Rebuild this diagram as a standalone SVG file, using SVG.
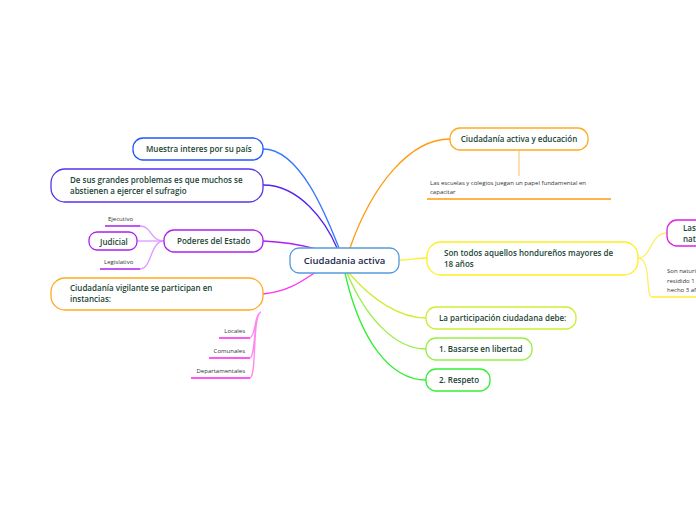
<svg xmlns="http://www.w3.org/2000/svg" width="696" height="520" viewBox="0 0 696 520">
<style>
.n{fill:#fff;stroke-width:1.3}
.t{font-family:"Open Sans","Noto Sans",sans-serif;font-size:8px;fill:#1b4536;font-weight:600}
.s{font-family:"Open Sans","Noto Sans",sans-serif;font-size:6px;fill:#333}
.c{fill:none;stroke-width:1.3}
</style>
<rect width="696" height="520" fill="#fff"/>
<g id="connectors">
<path class="c" stroke="#3377ff" d="M263,149 C300,149 326,215 339,248"/>
<path class="c" stroke="#5522ee" d="M263,185 C300,185 326,222 337,248"/>
<path class="c" stroke="#ff9a11" d="M450,139 C410,139 372,185 350,248"/>
<path class="c" stroke="#aa22ee" d="M263,241 C290,242 305,246 316,249"/>
<path class="c" stroke="#ff33ee" d="M263,294 C290,291 302,281 316,272"/>
<path class="c" stroke="#ffee33" d="M399,260 C410,260 415,258 427,258"/>
<path class="c" stroke="#ccee33" d="M349,273 C372,300 400,318 426,318"/>
<path class="c" stroke="#99ee44" d="M347,273 C366,318 395,349 426,349"/>
<path class="c" stroke="#33ee33" d="M345,273 C360,340 390,380 426,380"/>
<path class="c" stroke="#dd99ff" d="M164,241 L137,241"/>
<path class="c" stroke="#dd99ff" d="M164,241 C150,241 152,226 140,226"/>
<path class="c" stroke="#dd99ff" d="M164,241 C150,241 152,269 140,269"/>
<path class="c" stroke="#aa22ee" d="M105,226 L140,226 M100,269 L140,269"/>
<path class="c" stroke="#ff88ee" d="M261,312 C254,314 256,336 250,338 M261,312 C253,315 256,356 250,358 M261,312 C252,316 257,376 250,378"/>
<path class="c" stroke="#ff22ee" d="M219,338 L250,338 M209,358 L250,358 M191,378 L250,378"/>
<path class="c" stroke="#ffcc88" d="M519,151 L519,176"/>
<path class="c" stroke="#ff9a11" d="M427,199 L611,199"/>
<path class="c" stroke="#ffee66" d="M638,258 C652,258 650,233 667,233"/>
<path class="c" stroke="#ffee66" d="M638,258 C652,258 645,297 652,297"/>
<path class="c" stroke="#ffee33" d="M652,297 L696,297"/>
</g>
<g id="center"><rect class="n" x="290" y="248" width="109" height="25" rx="9" stroke="#5599dd"/><text x="344.5" y="264" text-anchor="middle" font-family="Open Sans,sans-serif" font-size="9.5" font-weight="600" fill="#1a2a4a">Ciudadania activa</text></g>
<g id="muestra"><rect class="n" x="133" y="138" width="130" height="22" rx="10" stroke="#2255ff"/><text class="t" x="146" y="152">Muestra interes por su país</text></g>
<g id="problemas"><rect class="n" x="51" y="169" width="212" height="33" rx="14" stroke="#5533ee"/><text class="t" x="70" y="183">De sus grandes problemas es que muchos se</text><text class="t" x="70" y="194">abstienen a ejercer el sufragio</text></g>
<g id="poderes"><rect class="n" x="164" y="230" width="99" height="22" rx="10" stroke="#aa22ee"/><text class="t" x="177" y="244">Poderes del Estado</text></g>
<g id="judicial"><rect class="n" x="89" y="232" width="48" height="18" rx="8" stroke="#aa22ee"/><text class="t" x="100" y="244.5">Judicial</text></g>
<g id="ejecutivo"><text class="s" x="108" y="221">Ejecutivo</text></g>
<g id="legislativo"><text class="s" x="104" y="264">Legislativo</text></g>
<g id="vigilante"><rect class="n" x="51" y="278" width="212" height="32" rx="14" stroke="#ffaa22"/><text class="t" x="70" y="291">Ciudadanía vigilante se participan en</text><text class="t" x="70" y="302">instancias:</text></g>
<g id="locales"><text class="s" x="245" y="333" text-anchor="end">Locales</text></g>
<g id="comunales"><text class="s" x="245" y="353" text-anchor="end">Comunales</text></g>
<g id="departamentales"><text class="s" x="245" y="373" text-anchor="end">Departamentales</text></g>
<g id="educacion"><rect class="n" x="450" y="128" width="138" height="22" rx="10" stroke="#ffaa22"/><text class="t" x="519" y="142" text-anchor="middle">Ciudadanía activa y educación</text></g>
<g id="escuelas"><text class="s" x="430" y="185">Las escuelas y colegios juegan un papel fundamental en</text><text class="s" x="430" y="194">capacitar</text></g>
<g id="hondurenos"><rect class="n" x="427" y="242" width="211" height="33" rx="14" stroke="#ffee22"/><text class="t" x="444" y="256">Son todos aquellos hondureños mayores de</text><text class="t" x="444" y="267">18 años</text></g>
<g id="nat"><rect class="n" x="667" y="220" width="40" height="26" rx="10" stroke="#dd22dd"/><text class="t" x="683" y="231">Las</text><text class="t" x="683" y="242">nat</text></g>
<g id="naturales"><text class="s" x="667" y="273">Son naturi</text><text class="s" x="667" y="283">residido 1</text><text class="s" x="667" y="292">hecho 3 af</text></g>
<g id="debe"><rect class="n" x="426" y="307" width="150" height="22" rx="10" stroke="#ccee33"/><text class="t" x="439" y="321">La participación ciudadana debe:</text></g>
<g id="libertad"><rect class="n" x="426" y="338" width="106" height="22" rx="10" stroke="#99ee44"/><text class="t" x="439" y="352">1. Basarse en libertad</text></g>
<g id="respeto"><rect class="n" x="426" y="369" width="64" height="22" rx="10" stroke="#33ee33"/><text class="t" x="439" y="383">2. Respeto</text></g>
</svg>
